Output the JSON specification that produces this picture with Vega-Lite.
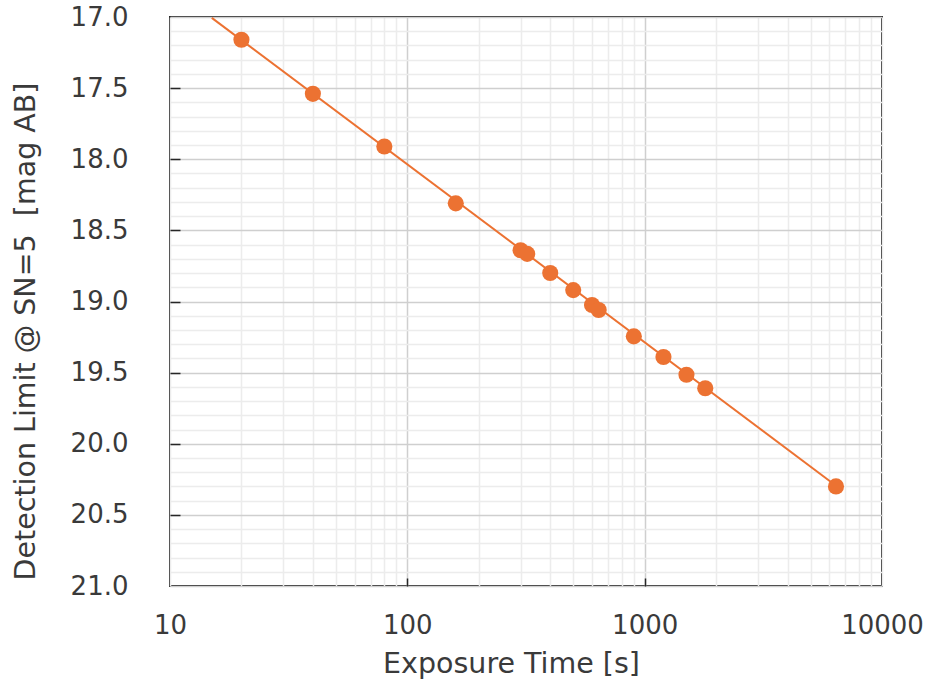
{
  "$schema": "https://vega.github.io/schema/vega-lite/v6.json",
  "width": 712,
  "height": 569,
  "autosize": "none",
  "padding": {"left": 170, "top": 17, "right": 51, "bottom": 99},
  "background": "white",
  "config": {
    "view": {"stroke": "#262626", "strokeWidth": 2},
    "font": "DejaVu Sans",
    "axis": {"labelFont": "DejaVu Sans", "titleFont": "DejaVu Sans", "labelColor": "#3a3a3a", "titleColor": "#3a3a3a", "titleFontWeight": "normal"}
  },
  "datasets": {
    "points": [
      {"t": 20, "mag": 17.16},
      {"t": 40, "mag": 17.54},
      {"t": 80, "mag": 17.91},
      {"t": 160, "mag": 18.31},
      {"t": 300, "mag": 18.64},
      {"t": 320, "mag": 18.665},
      {"t": 400, "mag": 18.8},
      {"t": 500, "mag": 18.92},
      {"t": 600, "mag": 19.025},
      {"t": 640, "mag": 19.06},
      {"t": 900, "mag": 19.245},
      {"t": 1200, "mag": 19.39},
      {"t": 1500, "mag": 19.515},
      {"t": 1800, "mag": 19.61},
      {"t": 6400, "mag": 20.3}
    ],
    "fit": [
      {"t": 15, "mag": 17.006},
      {"t": 6400, "mag": 20.295}
    ]
  },
  "resolve": {"axis": {"x": "independent", "y": "independent"}},
  "layer": [
    {
      "data": {"name": "fit"},
      "mark": {"type": "line", "color": "#EC7232", "strokeWidth": 2, "clip": true},
      "encoding": {
        "x": {
          "field": "t", "type": "quantitative",
          "scale": {"type": "log", "domain": [10, 10000], "nice": false},
          "axis": {
            "orient": "bottom",
            "title": "Exposure Time [s]",
            "titleFontSize": 28.5,
            "labelFontSize": 26,
            "titlePadding": 11,
            "titleX": 341,
            "titleAnchor": "middle",
            "values": [10,20,30,40,50,60,70,80,90,100,200,300,400,500,600,700,800,900,1000,2000,3000,4000,5000,6000,7000,8000,9000,10000],
            "format": "d",
            "labelExpr": "(datum.value == 10 || datum.value == 100 || datum.value == 1000 || datum.value == 10000) ? datum.label : ''",
            "labelPadding": 26,
            "labelFlush": false,
            "labelOverlap": false,
            "domain": false,
            "grid": true,
            "gridColor": {"condition": {"test": "datum.value == 100 || datum.value == 1000", "value": "#cfcfcf"}, "value": "#ececec"},
            "gridWidth": 1.5,
            "ticks": true,
            "tickSize": 0,
            "tickOpacity": 0
          }
        },
        "y": {
          "field": "mag", "type": "quantitative",
          "scale": {"domain": [17, 21], "reverse": true, "nice": false, "zero": false},
          "axis": {
            "orient": "left",
            "title": "Detection Limit @ SN=5\u00a0 [mag AB]",
            "titleFontSize": 28.5,
            "labelFontSize": 26,
            "values": [17,17.1,17.2,17.3,17.4,17.5,17.6,17.7,17.8,17.9,18,18.1,18.2,18.3,18.4,18.5,18.6,18.7,18.8,18.9,19,19.1,19.2,19.3,19.4,19.5,19.6,19.7,19.8,19.9,20,20.1,20.2,20.3,20.4,20.5,20.6,20.7,20.8,20.9,21],
            "format": ".1f",
            "labelExpr": "abs(datum.value*2 - round(datum.value*2)) < 0.001 ? datum.label : ''",
            "labelPadding": 42,
            "labelOverlap": false,
            "domain": false,
            "grid": true,
            "gridColor": {"condition": {"test": "abs(datum.value*2 - round(datum.value*2)) < 0.001", "value": "#cfcfcf"}, "value": "#ececec"},
            "gridWidth": 1.5,
            "ticks": true,
            "tickSize": 0,
            "tickOpacity": 0,
            "titleAngle": -90,
            "titleX": -145,
            "titleY": 314,
            "titleAlign": "center",
            "titleBaseline": "middle"
          }
        }
      }
    },
    {
      "data": {"name": "points"},
      "mark": {"type": "point", "filled": true, "shape": "circle", "size": 260, "color": "#EC7232", "opacity": 1},
      "encoding": {
        "x": {
          "field": "t", "type": "quantitative",
          "scale": {"type": "log", "domain": [10, 10000], "nice": false},
          "axis": {
            "orient": "top",
            "offset": -569,
            "title": null,
            "values": [100, 1000],
            "labels": false,
            "domain": false,
            "grid": false,
            "ticks": true,
            "tickSize": 8,
            "tickColor": "#262626",
            "tickWidth": 1.5
          }
        },
        "y": {
          "field": "mag", "type": "quantitative",
          "scale": {"domain": [17, 21], "reverse": true, "nice": false, "zero": false},
          "axis": {
            "orient": "right",
            "offset": -712,
            "title": null,
            "values": [17.5, 18, 18.5, 19, 19.5, 20, 20.5],
            "labels": false,
            "domain": false,
            "grid": false,
            "ticks": true,
            "tickSize": 10,
            "tickColor": "#262626",
            "tickWidth": 1.5
          }
        }
      }
    }
  ]
}
